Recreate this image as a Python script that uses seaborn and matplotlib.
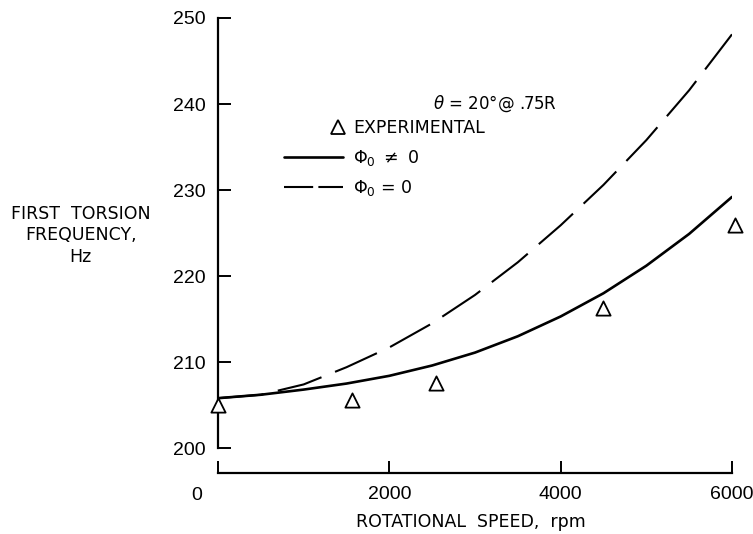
import matplotlib
matplotlib.use('Agg')
import matplotlib.pyplot as plt
from matplotlib.lines import Line2D
from matplotlib.legend_handler import HandlerLine2D
import pandas as pd
import seaborn as sns

# rotational speed (rpm) at which the two analytical curves were read
speed_rpm = [0, 500, 1000, 1500, 2000, 2500, 3000, 3500, 4000, 4500, 5000, 5500, 6000]
# first torsion frequency (Hz), phi_0 != 0 (solid)
freq_phi_nonzero = [205.8, 206.2, 206.8, 207.5, 208.4, 209.6, 211.1, 213.0,
                    215.3, 218.0, 221.2, 224.9, 229.2]
# first torsion frequency (Hz), phi_0 = 0 (dashed)
freq_phi_zero = [205.8, 206.2, 207.4, 209.4, 211.7, 214.5, 217.8, 221.6,
                 225.9, 230.6, 235.8, 241.6, 248.1]

# experimental points
exp_rpm = [0, 1560, 2550, 4500, 6030]
exp_freq = [205.0, 205.6, 207.6, 216.3, 225.9]

x_ticks = [0, 2000, 4000, 6000]
y_ticks = [200, 210, 220, 230, 240, 250]

text_font = ['DejaVu Sans']
num_font = ['Liberation Sans Narrow', 'Liberation Sans', 'DejaVu Sans']

sns.set_theme(style='ticks')
plt.rcParams['font.family'] = text_font
plt.rcParams['mathtext.fontset'] = 'dejavusans'
for key in ['text.color', 'axes.labelcolor', 'xtick.color', 'ytick.color',
            'axes.edgecolor']:
    plt.rcParams[key] = 'black'


class RightMarkerHandler(HandlerLine2D):
    # legend key with the single marker sitting at the right end of the handle
    def get_xdata(self, legend, xdescent, ydescent, width, height, fontsize):
        xm = -xdescent + width - 0.25 * fontsize
        return [xm - 1, xm + 1], [xm]


curves = pd.DataFrame({'rpm': speed_rpm,
                       'nonzero': freq_phi_nonzero,
                       'zero': freq_phi_zero})
exp_df = pd.DataFrame({'rpm': exp_rpm, 'freq': exp_freq})

fig = plt.figure(figsize=(7.53, 5.34), dpi=100)
ax = fig.add_axes([0.2895, 0.1142, 0.6826, 0.8521])

sns.lineplot(data=curves, x='rpm', y='nonzero', ax=ax, color='black',
             linewidth=1.9, legend=False)
sns.lineplot(data=curves, x='rpm', y='zero', ax=ax, color='black',
             linewidth=1.5, legend=False)
ax.lines[-1].set_dashes((22, 7))
sns.scatterplot(data=exp_df, x='rpm', y='freq', ax=ax, marker='^', s=105,
                facecolor='white', edgecolor='black', linewidth=1.3,
                clip_on=False, zorder=5, legend=False)

ax.set_xlim(0, 6000)
ax.set_ylim(197.1, 250)
ax.set_xticks(x_ticks)
ax.set_xticklabels([''] + [str(t) for t in x_ticks[1:]])
ax.set_yticks(y_ticks)
ax.set_yticklabels([str(t) for t in y_ticks])

sns.despine(ax=ax)
ax.spines['left'].set_bounds(200, 250)
ax.spines['bottom'].set_bounds(0, 6000)
for side in ['left', 'bottom']:
    ax.spines[side].set_linewidth(1.6)

ax.tick_params(axis='both', direction='in', length=9, width=1.4,
               labelsize=14, labelfontfamily=num_font)
ax.tick_params(axis='x', pad=9)
ax.tick_params(axis='y', pad=9)

# the "0" label on the speed axis sits left of its tick in the original
ax.annotate('0', xy=(-245, 0), xycoords=('data', 'axes fraction'),
            xytext=(0, -16), textcoords='offset points', ha='center',
            va='center', fontsize=14, family=num_font)

ax.set_xlabel('ROTATIONAL  SPEED,  rpm', fontsize=12.5)
ax.xaxis.set_label_coords(0.492, -0.088)
ax.set_ylabel('FIRST  TORSION\nFREQUENCY,\nHz', fontsize=12.5, rotation=0,
              ha='center', va='center', linespacing=1.25)
ax.yaxis.set_label_coords(-0.267, 0.523)

ax.text(0.418, 0.811, r'$\theta$ = 20°@ .75R', transform=ax.transAxes,
        fontsize=12, ha='left', va='center')

handles = [
    Line2D([], [], marker='^', linestyle='none', markersize=10,
           markerfacecolor='white', markeredgecolor='black', markeredgewidth=1.3),
    Line2D([], [], color='black', linewidth=1.9),
    Line2D([], [], color='black', linewidth=1.5, dashes=(14, 2.5)),
]
labels = ['EXPERIMENTAL', r'$\Phi_0$ $\neq$ 0', r'$\Phi_0$ = 0']
ax.legend(handles, labels, loc='upper left', bbox_to_anchor=(0.128, 0.777),
          frameon=False, fontsize=12.5, handlelength=3.4, handletextpad=0.6,
          borderpad=0, borderaxespad=0, labelspacing=0.6, numpoints=1,
          handler_map={handles[0]: RightMarkerHandler()})

fig.savefig('out.png', dpi=100)
